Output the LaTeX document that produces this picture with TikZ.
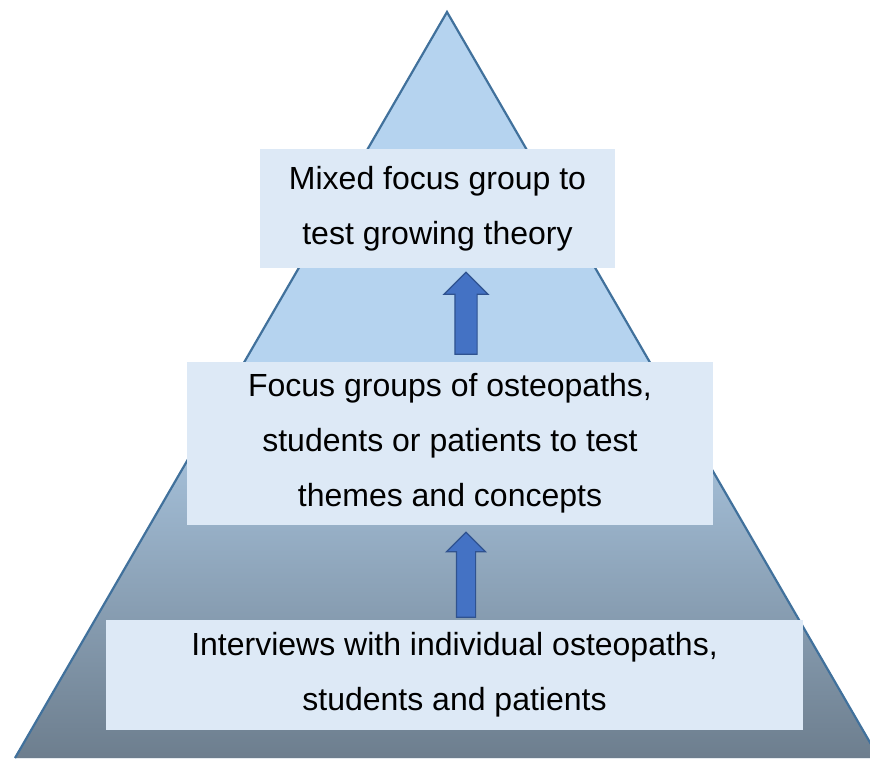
\documentclass[tikz,border=0pt]{standalone}
\usepackage{fontspec}
\setmainfont{Liberation Sans}
\usepackage{xcolor}
\usepackage{tikz}
\usetikzlibrary{shapes,arrows,arrows.meta,positioning}

\definecolor{pyrline}{HTML}{41719C}
\definecolor{pyrlight}{HTML}{B5D3EF}
\definecolor{pyrmid}{HTML}{8FA5BA}
\definecolor{pyrdark}{HTML}{6D7E8E}
\definecolor{stagefill}{HTML}{DDE9F6}
\definecolor{risefill}{HTML}{4472C4}
\definecolor{riseline}{HTML}{2F528F}

\begin{document}
\begin{tikzpicture}[x=1pt, y=-1pt,
        stage/.style={fill=stagefill, inner sep=0pt, align=center,
            font=\fontsize{32}{55}\selectfont},
        rise/.style={single arrow, draw=riseline, fill=risefill, line width=1.2pt,
            shape border rotate=90, anchor=tail}
    ]
        \useasboundingbox (0,0) rectangle (870,758);
        % pyramid
        \coordinate (apex) at (447,12);
        \coordinate (baseL) at (15,758);
        \coordinate (baseR) at (879,758);
        \coordinate (col) at (466,0);
        \fill[pyrlight] (apex) -- (baseL) -- (baseR) -- cycle;
        \begin{scope}
            \clip (apex) -- (baseL) -- (baseR) -- cycle;
            \shade[top color=pyrlight, middle color=pyrmid, bottom color=pyrdark]
                (0,360) rectangle (870,758);
        \end{scope}
        \draw[pyrline, line width=2.2pt] (baseL) -- (apex) -- (baseR);

        % stages
        \node[stage, minimum width=355pt, minimum height=119pt] (mixed) at (437.5,208.5)
            {Mixed focus group to\\test growing theory};
        \node[stage, minimum width=526pt, minimum height=163pt] (focus) at (450,443.5)
            {Focus groups of osteopaths,\\students or patients to test\\themes and concepts};
        \node[stage, minimum width=697pt, minimum height=110pt] (interv) at (454.5,675)
            {Interviews with individual osteopaths,\\students and patients};

        % arrows
        \node[rise, inner sep=10.5pt, minimum width=43pt, minimum height=82pt,
            single arrow head extend=11pt] (rise1) at ([yshift=7pt]focus.north -| col) {};
        \node[rise, inner sep=9pt, minimum width=38pt, minimum height=85pt,
            single arrow head extend=10pt] (rise2) at ([yshift=2pt]interv.north -| col) {};
\end{tikzpicture}
\end{document}
